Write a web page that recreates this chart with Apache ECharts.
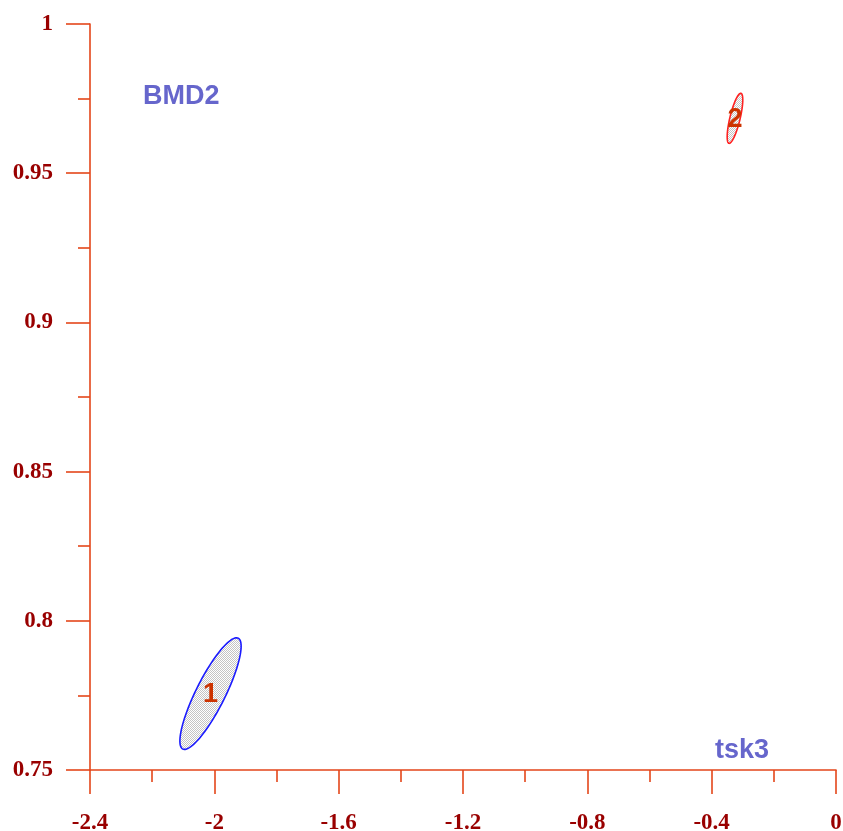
<!DOCTYPE html>
<html>
<head>
<meta charset="utf-8">
<script src="https://cdn.jsdelivr.net/npm/echarts@6/dist/echarts.min.js"></script>
<style>html,body{margin:0;padding:0;background:#fff}#c{width:843px;height:831px}</style>
</head>
<body>
<div id="c"></div>
<script>
// ---- data ----
const ellipseLabels = ['1', '2'];
const centersX = [-2.0123, -0.325];
const centersY = [0.7756, 0.9684];
// semi-axis vectors in data units (major: dx, dy ; minor: dx, dy)
const majorDX = [0.0891, 0.0193];
const majorDY = [0.01857, 0.00838];
const minorDX = [0.0420, 0.0160];
const minorDY = [-0.00219, -0.0004];
const outlineColors = ['#1a1aff', '#ff2020'];
const xTickLabels = ['-2.4', '-2', '-1.6', '-1.2', '-0.8', '-0.4', '0'];
const yTickLabels = ['0.75', '0.8', '0.85', '0.9', '0.95', '1'];
const xName = 'tsk3';
const yName = 'BMD2';

// ---- pattern ----
const pc = document.createElement('canvas');
pc.width = 2; pc.height = 2;
const pctx = pc.getContext('2d');
pctx.fillStyle = '#ffffff'; pctx.fillRect(0, 0, 2, 2);
pctx.fillStyle = '#c4c4c4'; pctx.fillRect(0, 0, 1, 1); pctx.fillRect(1, 1, 1, 1);
const pattern = { image: pc, repeat: 'repeat' };

const axisColor = '#e4461a';
const labelColor = '#990000';

const data = ellipseLabels.map((l, i) => [centersX[i], centersY[i], majorDX[i], majorDY[i], minorDX[i], minorDY[i], i]);

function fmt(labels) {
  return function (v) {
    for (const s of labels) if (Math.abs(parseFloat(s) - v) < 1e-9) return s;
    return String(+v.toFixed(3));
  };
}

const chart = echarts.init(document.getElementById('c'), null, { renderer: 'canvas' });
chart.setOption({
  animation: false,
  grid: { left: 90, right: 7, top: 24, bottom: 61, containLabel: false, outerBoundsMode: 'none' },
  xAxis: {
    type: 'value', min: -2.4, max: 0, interval: 0.4,
    axisLine: { show: true, onZero: false, lineStyle: { color: axisColor, width: 1.6 } },
    axisTick: { show: true, inside: false, length: 24, lineStyle: { color: axisColor, width: 1.6 } },
    minorTick: { show: true, splitNumber: 2, length: 12, lineStyle: { color: axisColor, width: 1.6 } },
    splitLine: { show: false },
    axisLabel: { color: labelColor, fontFamily: 'Liberation Serif', fontWeight: 'bold', fontSize: 23, margin: 42, formatter: fmt(xTickLabels) }
  },
  yAxis: {
    type: 'value', min: 0.75, max: 1, interval: 0.05,
    axisLine: { show: true, onZero: false, lineStyle: { color: axisColor, width: 1.6 } },
    axisTick: { show: true, inside: false, length: 24, lineStyle: { color: axisColor, width: 1.6 } },
    minorTick: { show: true, splitNumber: 2, length: 12, lineStyle: { color: axisColor, width: 1.6 } },
    splitLine: { show: false },
    axisLabel: { color: labelColor, fontFamily: 'Liberation Serif', fontWeight: 'bold', fontSize: 23, margin: 37, formatter: fmt(yTickLabels) }
  },
  graphic: [
    { type: 'text', left: 143, top: 83, style: { text: yName, fill: '#6666cc', font: 'bold 27px "Liberation Sans", Arial, sans-serif' } },
    { type: 'text', left: 715, top: 737, style: { text: xName, fill: '#6666cc', font: 'bold 27px "Liberation Sans", Arial, sans-serif' } }
  ],
  series: [{
    type: 'custom',
    clip: false,
    data: data,
    renderItem: function (params, api) {
      const cx = api.value(0), cy = api.value(1);
      const ax = api.value(2), ay = api.value(3), bx = api.value(4), by = api.value(5);
      const idx = api.value(6);
      const pts = [];
      const N = 120;
      for (let k = 0; k < N; k++) {
        const t = 2 * Math.PI * k / N;
        const c = Math.cos(t), s = Math.sin(t);
        pts.push(api.coord([cx + c * ax + s * bx, cy + c * ay + s * by]));
      }
      const ctr = api.coord([cx, cy]);
      return {
        type: 'group',
        children: [
          { type: 'polygon', shape: { points: pts }, style: { fill: pattern, stroke: outlineColors[idx], lineWidth: 1.6 } },
          { type: 'text', x: ctr[0], y: ctr[1] + 1, style: { text: ellipseLabels[idx], fill: '#cc3300', font: 'bold 27px "Liberation Sans", Arial, sans-serif', align: 'center', verticalAlign: 'middle' } }
        ]
      };
    }
  }]
});
</script>
</body>
</html>
